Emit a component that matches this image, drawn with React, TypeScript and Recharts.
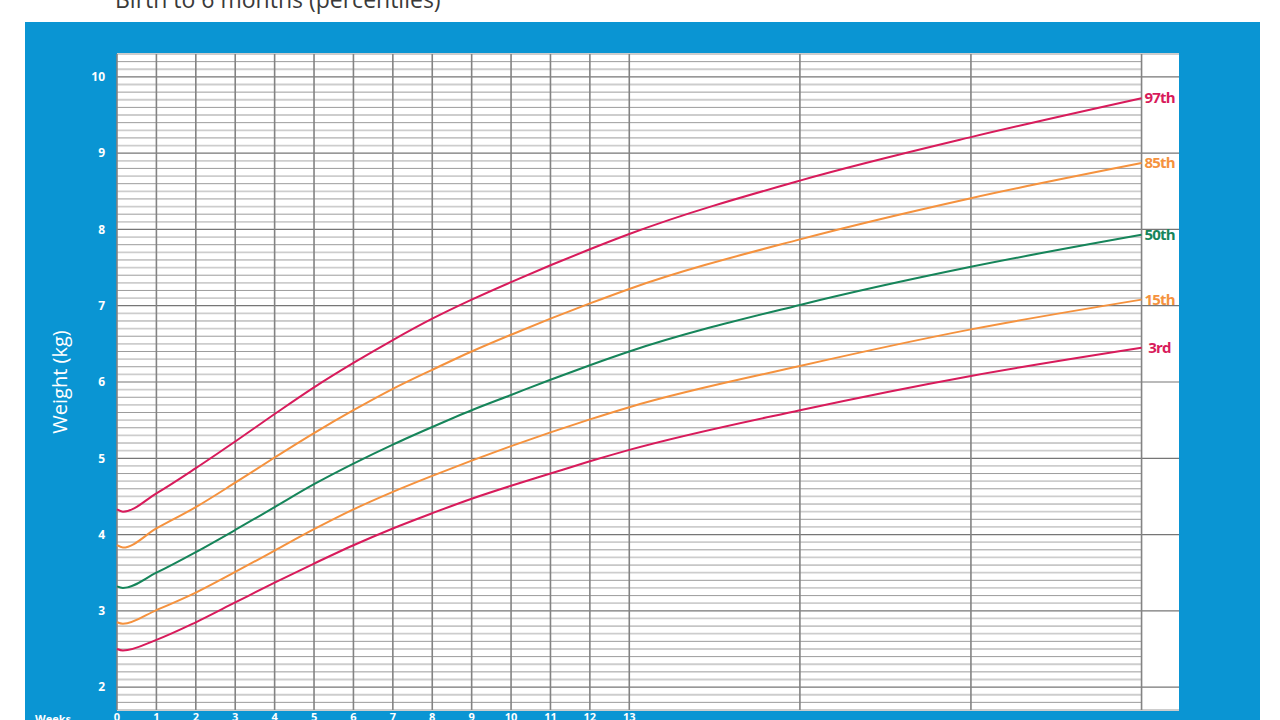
import { LabelList, Line, LineChart, ReferenceLine, XAxis, YAxis } from "recharts";

// x positions in weeks (4, 5 and 6 months = 17.33, 21.67, 26 weeks)
const WEEKS = [0, 0.15, 1, 2, 3, 4, 5, 6, 7, 8, 9, 10, 11, 12, 13, 17.33, 21.67, 26];
const P97 = [4.33, 4.3, 4.54, 4.87, 5.22, 5.58, 5.93, 6.25, 6.55, 6.83, 7.08, 7.31, 7.53, 7.74, 7.94, 8.64, 9.21, 9.72];
const P85 = [3.86, 3.83, 4.08, 4.36, 4.68, 5.01, 5.33, 5.63, 5.91, 6.16, 6.4, 6.62, 6.83, 7.03, 7.22, 7.87, 8.41, 8.87];
const P50 = [3.32, 3.3, 3.5, 3.77, 4.06, 4.36, 4.66, 4.93, 5.18, 5.41, 5.63, 5.83, 6.03, 6.22, 6.4, 7.01, 7.51, 7.93];
const P15 = [2.85, 2.83, 3.01, 3.24, 3.51, 3.79, 4.07, 4.33, 4.56, 4.77, 4.97, 5.16, 5.34, 5.51, 5.67, 6.21, 6.69, 7.08];
const P03 = [2.5, 2.48, 2.62, 2.85, 3.11, 3.37, 3.62, 3.86, 4.08, 4.28, 4.47, 4.64, 4.8, 4.96, 5.11, 5.63, 6.08, 6.45];

const WEEK_TICKS = [0, 1, 2, 3, 4, 5, 6, 7, 8, 9, 10, 11, 12, 13];
const MONTH_LINES = [17.33, 21.67, 26];
const KG_TICKS = [2, 3, 4, 5, 6, 7, 8, 9, 10];

const X_MAX = 26.95;
const Y_DOMAIN: [number, number] = [1.7, 10.3];

const PINK = "#d81b5b";
const ORANGE = "#f5923e";
const GREEN = "#16855a";
const BLUE = "#0a95d3";

const data = WEEKS.map((week, i) => ({
  week,
  p97: P97[i],
  p85: P85[i],
  p50: P50[i],
  p15: P15[i],
  p03: P03[i],
}));

// tenths of a kg for the fine grid
const tenths: number[] = [];
for (let t = 17; t <= 103; t++) tenths.push(t);

const TICK_STYLE = { fill: "#ffffff", fontSize: 12, fontWeight: 700, fontFamily: "Open Sans" };

function endLabel(text: string, color: string) {
  return (props: any) => {
    if (props.index !== WEEKS.length - 1) return <g />;
    return (
      <text
        x={props.x + 18}
        y={props.y}
        dy={5}
        textAnchor="middle"
        fill={color}
        fontSize={15}
        fontWeight={700}
        fontFamily="Open Sans"
        letterSpacing={-0.8}
      >
        {text}
      </text>
    );
  };
}

export default function App() {
  return (
    <div style={{ position: "fixed", left: 0, top: 0, width: 1280, height: 720, overflow: "hidden", background: "#fff" }}>
      <div
        style={{
          position: "absolute",
          left: 115,
          top: -12,
          fontFamily: "Open Sans",
          fontSize: 23,
          lineHeight: "23px",
          color: "#3a3a3a",
          whiteSpace: "nowrap",
        }}
      >
        Birth to 6 months (percentiles)
      </div>
      <div style={{ position: "absolute", left: 25, top: 22, width: 1235, height: 720, background: BLUE }} />
      <div style={{ position: "absolute", left: 117, top: 54, width: 1062, height: 656, background: "#fff" }} />
      <div
        style={{
          position: "absolute",
          left: 35,
          top: 711,
          fontFamily: "Open Sans",
          fontSize: 11,
          fontWeight: 700,
          color: "#fff",
        }}
      >
        Weeks
      </div>
      <div style={{ position: "absolute", left: 0, top: 0 }}>
        <LineChart width={1280} height={760} data={data} margin={{ top: 54, right: 61, bottom: 20, left: 77 }}>
          {tenths.map((t) => {
            const kg = t / 10;
            const whole = t % 10 === 0;
            const edge = t === 17 || t === 103;
            const even = t % 2 === 0;
            return (
              <ReferenceLine
                key={`h${t}`}
                segment={[
                  { x: 0, y: kg },
                  { x: whole || edge ? X_MAX : 26, y: kg },
                ]}
                stroke={whole ? "#767676" : even ? "#9c9c9c" : "#cdcdcd"}
                strokeWidth={whole ? 1.2 : even ? 1 : 1.8}
                ifOverflow="visible"
                zIndex={-50}
              />
            );
          })}
          {[...WEEK_TICKS, ...MONTH_LINES].map((w) => (
            <ReferenceLine key={`v${w}`} x={w} stroke="#838383" strokeWidth={1.6} ifOverflow="visible" zIndex={-40} />
          ))}
          <XAxis
            type="number"
            dataKey="week"
            domain={[0, X_MAX]}
            ticks={WEEK_TICKS}
            interval={0}
            height={30}
            axisLine={false}
            tickLine={false}
            tickSize={0}
            tickMargin={3}
            tick={{ ...TICK_STYLE, fontSize: 11 }}
          />
          <YAxis
            type="number"
            domain={Y_DOMAIN}
            ticks={KG_TICKS}
            interval={0}
            width={40}
            axisLine={false}
            tickLine={false}
            tickSize={0}
            tickMargin={12}
            tick={TICK_STYLE}
            label={{
              value: "Weight (kg)",
              angle: -90,
              position: "left",
              offset: 17,
              fill: "#ffffff",
              fontSize: 20,
              fontFamily: "Open Sans",
              style: { textAnchor: "middle" },
            }}
          />
          <YAxis
            yAxisId="r"
            orientation="right"
            type="number"
            domain={Y_DOMAIN}
            ticks={KG_TICKS}
            interval={0}
            width={40}
            axisLine={false}
            tickLine={false}
            tickSize={0}
            tickMargin={13}
            tick={TICK_STYLE}
          />
          <Line isAnimationActive={false} type="monotone" dataKey="p97" stroke={PINK} strokeWidth={2} dot={false}>
            <LabelList dataKey="p97" content={endLabel("97th", PINK)} />
          </Line>
          <Line isAnimationActive={false} type="monotone" dataKey="p85" stroke={ORANGE} strokeWidth={2} dot={false}>
            <LabelList dataKey="p85" content={endLabel("85th", ORANGE)} />
          </Line>
          <Line isAnimationActive={false} type="monotone" dataKey="p50" stroke={GREEN} strokeWidth={2} dot={false}>
            <LabelList dataKey="p50" content={endLabel("50th", GREEN)} />
          </Line>
          <Line isAnimationActive={false} type="monotone" dataKey="p15" stroke={ORANGE} strokeWidth={2} dot={false}>
            <LabelList dataKey="p15" content={endLabel("15th", ORANGE)} />
          </Line>
          <Line isAnimationActive={false} type="monotone" dataKey="p03" stroke={PINK} strokeWidth={2} dot={false}>
            <LabelList dataKey="p03" content={endLabel("3rd", PINK)} />
          </Line>
        </LineChart>
      </div>
    </div>
  );
}
